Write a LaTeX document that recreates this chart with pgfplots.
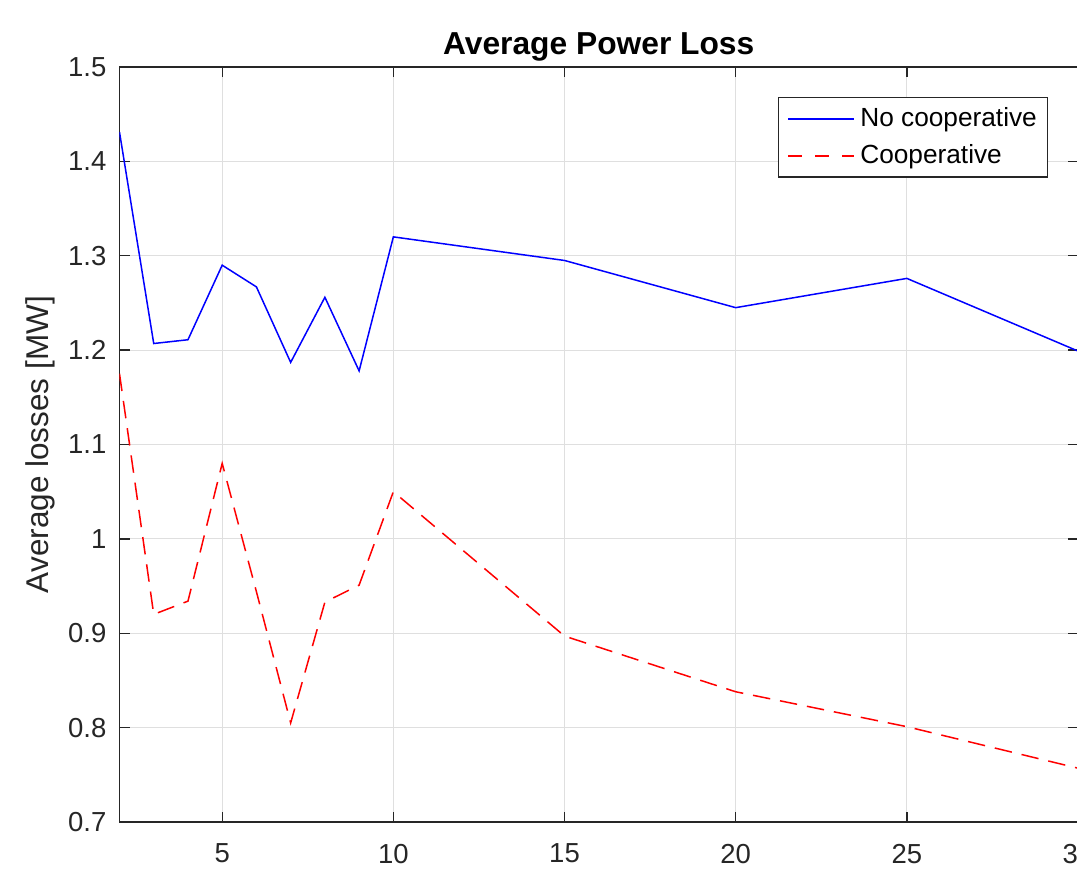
\documentclass[border=0pt]{standalone}
\usepackage{pgfplots}
\pgfplotsset{compat=1.18}
\usepackage{fontspec}
\setmainfont{Liberation Sans}
\definecolor{axgray}{HTML}{262626}
\definecolor{gridgray}{HTML}{DFDFDF}
\begin{document}
\begin{tikzpicture}
\begin{axis}[
  scale only axis,
  width=383.4pt, height=302pt,
  xmin=2, xmax=30, ymin=0.7, ymax=1.5,
  xtick={5,10,15,20,25,30},
  ytick={0.7,0.8,0.9,1,1.1,1.2,1.3,1.4,1.5},
  yticklabels={0.7,0.8,0.9,1,1.1,1.2,1.3,1.4,1.5},
  /pgf/number format/assume math mode=true,
  tick align=inside,
  major tick length=4pt,
  grid=major,
  major grid style={color=gridgray, line width=0.4pt},
  axis line style={color=axgray, line width=0.55pt},
  every tick/.style={color=axgray, line width=0.55pt},
  tick label style={font=\fontsize{11}{13}\selectfont, color=axgray},
  xticklabel shift=5.3pt,
  yticklabel shift=1.7pt,
  title={Average Power Loss},
  title style={font=\fontsize{12.7}{14}\selectfont\bfseries, at={(axis description cs:0.5,1)}, anchor=base, yshift=-0.8pt},
  ylabel={Average losses [MW]},
  ylabel style={font=\fontsize{12.6}{14}\selectfont, color=axgray, at={(axis description cs:-0.0663,0.5)}, anchor=south, inner sep=0pt},
  legend style={at={([xshift=-12pt,yshift=-12pt]rel axis cs:1,1)}, anchor=north east,
    font=\fontsize{10.5}{12}\selectfont, draw=axgray, line width=0.5pt, inner xsep=2.2pt, inner ysep=2pt,
    row sep=1.5pt},
  legend cell align=left,
  legend image code/.code={\path (-1.2pt,0pt); \draw[#1] (0pt,0pt) -- (26.4pt,0pt);},
]
\addplot[color=blue, line width=0.6pt, forget plot] coordinates {
(2,1.431) (3,1.207) (4,1.211) (5,1.290) (6,1.267) (7,1.187) (8,1.256) (9,1.178) (10,1.320) (15,1.295) (20,1.245) (25,1.276) (30,1.199)
};
\addplot[color=red, line width=0.6pt, dash pattern=on 7pt off 4pt, forget plot] coordinates {
(2,1.175) (3,0.920) (4,0.934) (5,1.080) (6,0.944) (7,0.805) (8,0.933) (9,0.951) (10,1.050) (15,0.897) (20,0.838) (25,0.801) (30,0.757)
};
\addlegendimage{draw=blue, line width=0.6pt}
\addlegendentry{No cooperative}
\addlegendimage{draw=red, line width=0.8pt, dash pattern=on 5.6pt off 5.2pt}
\addlegendentry{Cooperative}
\end{axis}
\pgfresetboundingbox
\useasboundingbox ([xshift=-47.8pt,yshift=-25.6pt]current axis.south west) rectangle ([xshift=-0.4pt,yshift=26.8pt]current axis.north east);
\end{tikzpicture}
\end{document}
